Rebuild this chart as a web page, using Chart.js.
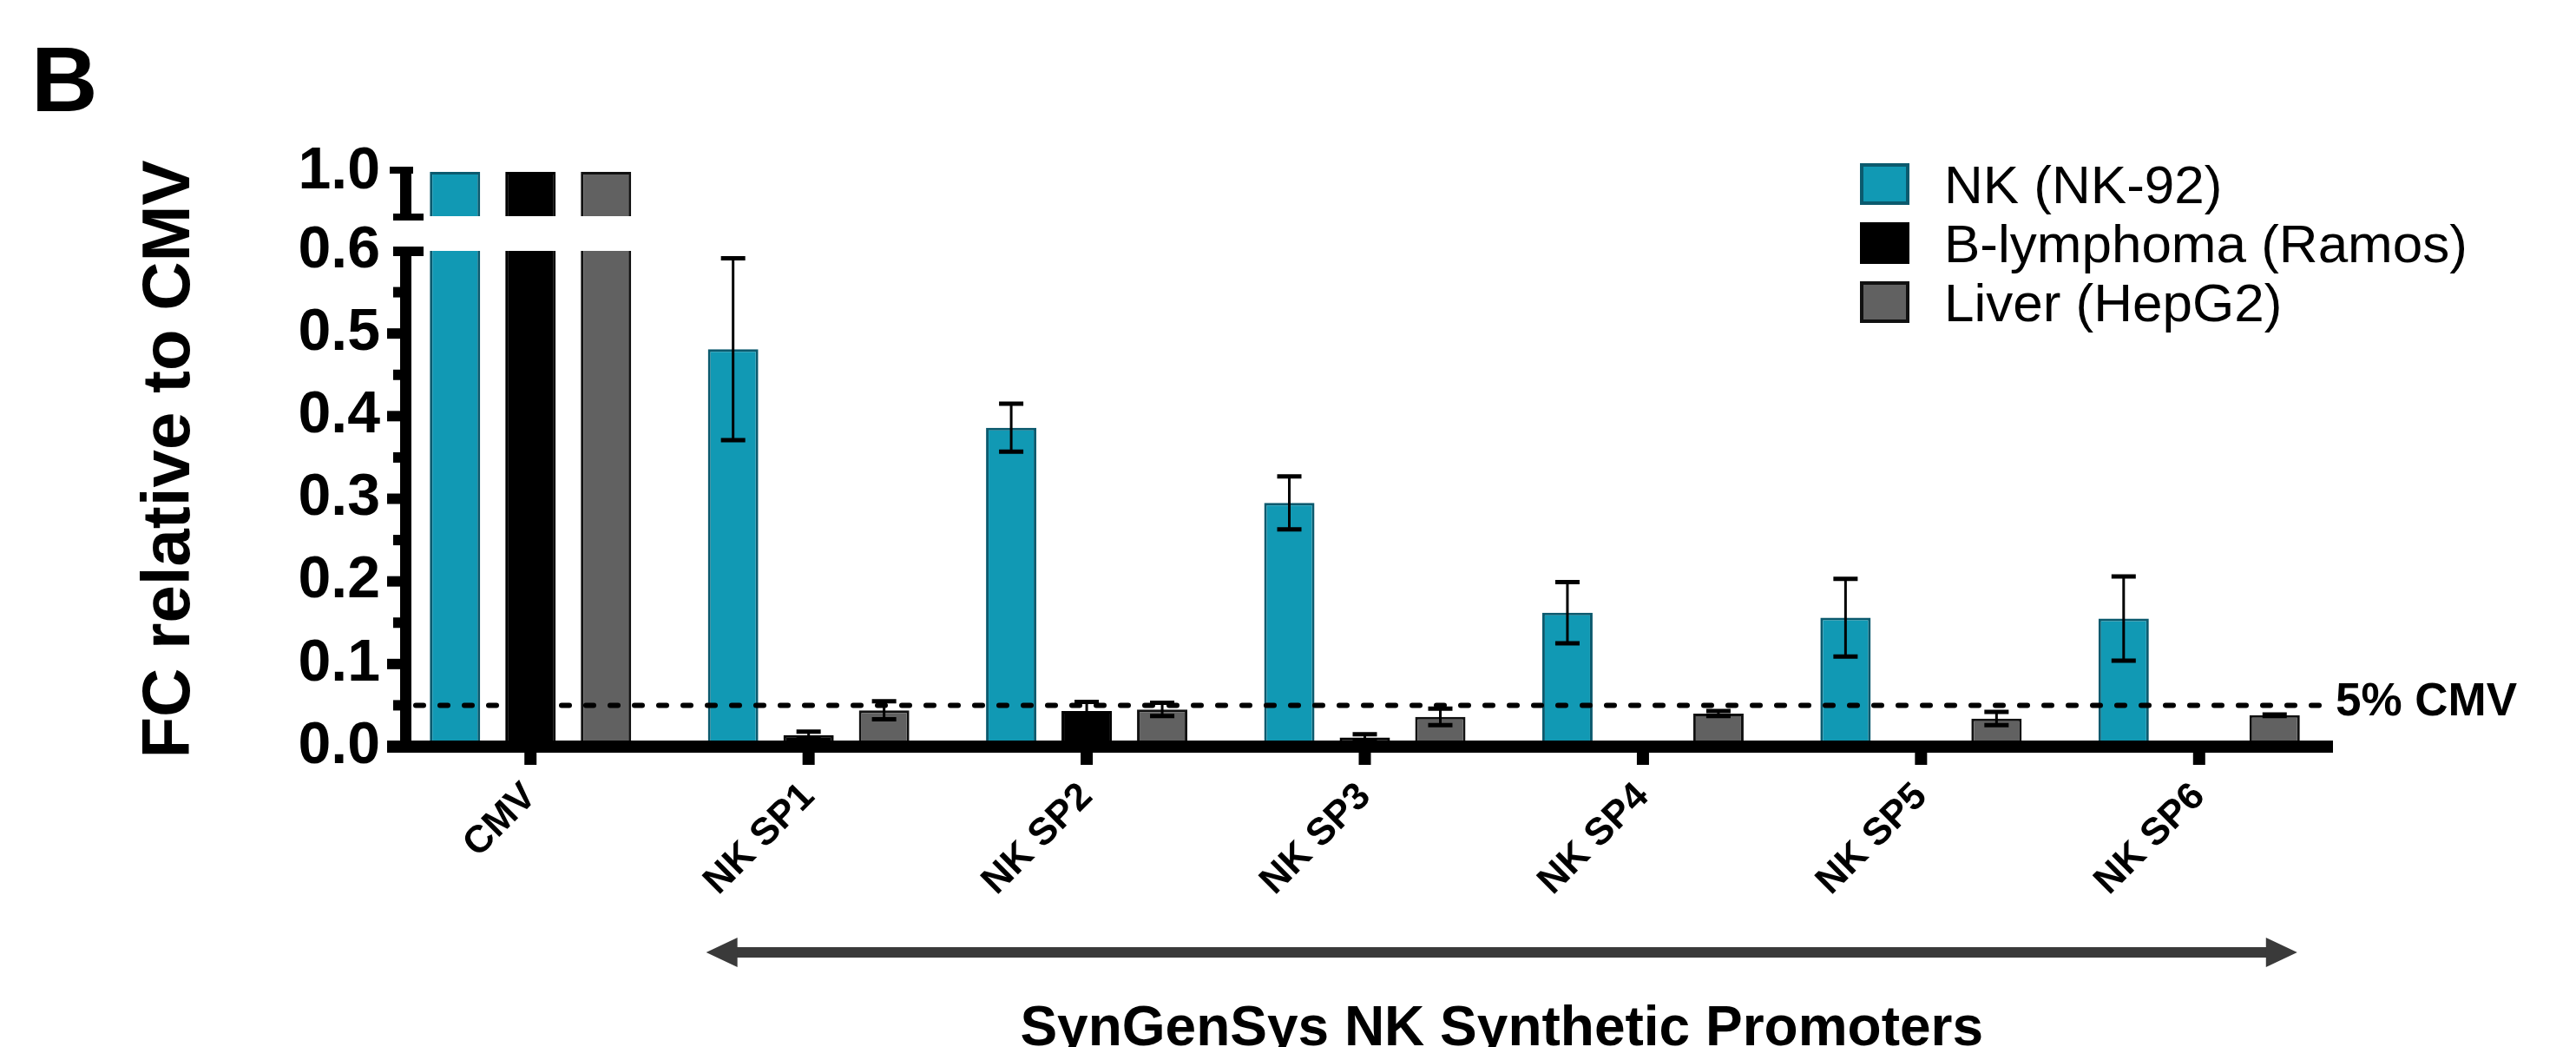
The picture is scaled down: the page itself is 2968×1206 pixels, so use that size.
<!DOCTYPE html>
<html>
<head>
<meta charset="utf-8">
<script src="https://cdn.jsdelivr.net/npm/chart.js@4.4.1/dist/chart.umd.min.js"></script>
<style>
  html, body { margin: 0; padding: 0; background: #fff; }
</style>
</head>
<body>
<canvas id="myChart" width="2968" height="1206"></canvas>
<script>
// data
const categories = ["CMV", "NK SP1", "NK SP2", "NK SP3", "NK SP4", "NK SP5", "NK SP6"];
const seriesNames = ["NK (NK-92)", "B-lymphoma (Ramos)", "Liver (HepG2)"];
const nkValues = [1.0, 0.481, 0.386, 0.295, 0.162, 0.156, 0.155];
const nkErrors = [0, 0.110, 0.029, 0.032, 0.037, 0.047, 0.051];
const ramosValues = [1.0, 0.014, 0.043, 0.011, 0, 0, 0];
const ramosErrors = [0, 0.004, 0.011, 0.004, 0, 0, 0];
const hepg2Values = [1.0, 0.044, 0.045, 0.036, 0.040, 0.034, 0.038];
const hepg2Errors = [0, 0.011, 0.008, 0.010, 0.003, 0.008, 0.001];
const yTickValues = [0, 0.05, 0.1, 0.15, 0.2, 0.25, 0.3, 0.35, 0.4, 0.45, 0.5, 0.55, 0.6, 1.0];
const thresholdValue = 0.05;
const thresholdLabel = "5% CMV";
const panelLabel = "B";
const groupLabel = "SynGenSys NK Synthetic Promoters";

const FONT = "'Liberation Sans', Arial, sans-serif";
const colors = {
  nk: "#1199b4", nkBorder: "#0b5a6e",
  ramos: "#000000", ramosBorder: "#000000",
  hepg2: "#616161", hepg2Border: "#111111",
};

// linear scale with a break between lowMax and highMin
class BrokenScale extends Chart.LinearScale {
  _segs() {
    const b = this.options.brk;
    const h = this.bottom - this.top;
    return { b, lowTop: this.bottom - h * b.lowFrac, highBottom: this.top + h * b.highFrac };
  }
  getPixelForValue(value) {
    const { b, lowTop, highBottom } = this._segs();
    if (value <= b.lowMax) {
      return this.bottom - (value - this.min) / (b.lowMax - this.min) * (this.bottom - lowTop);
    }
    if (value >= b.highMin) {
      return highBottom - (value - b.highMin) / (this.max - b.highMin) * (highBottom - this.top);
    }
    return lowTop - (value - b.lowMax) / (b.highMin - b.lowMax) * (lowTop - highBottom);
  }
  getValueForPixel(pixel) {
    const { b, lowTop, highBottom } = this._segs();
    if (pixel >= lowTop) return this.min + (this.bottom - pixel) / (this.bottom - lowTop) * (b.lowMax - this.min);
    if (pixel <= highBottom) return b.highMin + (highBottom - pixel) / (highBottom - this.top) * (this.max - b.highMin);
    return b.lowMax + (lowTop - pixel) / (lowTop - highBottom) * (b.highMin - b.lowMax);
  }
}
BrokenScale.id = "broken";
BrokenScale.defaults = Chart.LinearScale.defaults;
Chart.register(BrokenScale);

const errorArrays = [nkErrors, ramosErrors, hepg2Errors];

const decorPlugin = {
  id: "decor",
  afterDatasetsDraw(chart) {
    const { ctx, chartArea } = chart;
    const y = chart.scales.y;
    const x = chart.scales.x;
    const brk = y.options.brk;
    const lowTop = y.getPixelForValue(brk.lowMax);
    const highBottom = y.getPixelForValue(brk.highMin);
    ctx.save();

    // axis break gap
    ctx.fillStyle = "#fff";
    ctx.fillRect(chartArea.left, highBottom + 1, chartArea.right - chartArea.left, lowTop - highBottom - 1);

    // error bars
    ctx.strokeStyle = "#000";
    chart.data.datasets.forEach((ds, i) => {
      const meta = chart.getDatasetMeta(i);
      meta.data.forEach((bar, j) => {
        const e = errorArrays[i][j];
        if (!e) return;
        const v = ds.data[j];
        const yt = y.getPixelForValue(v + e);
        const yb = y.getPixelForValue(Math.max(v - e, 0));
        ctx.lineWidth = 3;
        ctx.beginPath();
        ctx.moveTo(bar.x, yt);
        ctx.lineTo(bar.x, yb);
        ctx.stroke();
        ctx.lineWidth = 5;
        ctx.beginPath();
        ctx.moveTo(bar.x - 14, yt); ctx.lineTo(bar.x + 14, yt);
        ctx.moveTo(bar.x - 14, yb); ctx.lineTo(bar.x + 14, yb);
        ctx.stroke();
      });
    });

    // threshold line
    const ty = y.getPixelForValue(thresholdValue);
    ctx.lineWidth = 6;
    ctx.lineCap = "round";
    ctx.setLineDash([9, 19]);
    ctx.beginPath();
    ctx.moveTo(chartArea.left + 28, ty);
    ctx.lineTo(chartArea.right - 21, ty);
    ctx.stroke();
    ctx.setLineDash([]);
    ctx.lineCap = "butt";
    ctx.fillStyle = "#000";
    ctx.font = "bold 53px " + FONT;
    ctx.textBaseline = "middle";
    ctx.textAlign = "left";
    ctx.fillText(thresholdLabel, chartArea.right - 3, ty - 3);

    // axes
    const ax = chartArea.left + 10;  // left edge of y axis line
    ctx.fillStyle = "#000";
    ctx.fillRect(chartArea.left - 5, y.bottom - 7, chartArea.right - 6 - (chartArea.left - 5), 14);
    categories.forEach((c, i) => {
      const px = x.getPixelForTick(i);
      ctx.fillRect(px - 7, y.bottom + 7, 14, 14);
    });
    ctx.fillRect(ax, lowTop - 5, 13, y.bottom + 7 - (lowTop - 5));
    ctx.fillRect(ax - 8, lowTop - 5, 35, 11);
    yTickValues.forEach(v => {
      if (v > brk.lowMax) return;
      const py = y.getPixelForValue(v);
      const major = Math.abs(v * 10 - Math.round(v * 10)) < 1e-6;
      if (v === brk.lowMax || v === 0) return;
      if (major) ctx.fillRect(ax - 15, py - 6, 15, 12);
      else ctx.fillRect(ax - 8, py - 6, 8, 12);
    });
    // upper segment
    ctx.fillRect(ax, y.top - 6, 13, highBottom + 5 - (y.top - 6));
    ctx.fillRect(ax - 12, y.top - 6, 27, 8);
    ctx.fillRect(ax - 8, highBottom - 2, 35, 8);

    // legend
    const lx = 2143, rowY = [212, 280, 348], bw = 57, bh = 48;
    const fills = [colors.nk, colors.ramos, colors.hepg2];
    const borders = [colors.nkBorder, colors.ramosBorder, colors.hepg2Border];
    ctx.font = "62px " + FONT;
    ctx.textBaseline = "alphabetic";
    seriesNames.forEach((name, i) => {
      ctx.fillStyle = fills[i];
      ctx.fillRect(lx, rowY[i] - bh / 2, bw, bh);
      ctx.strokeStyle = borders[i];
      ctx.lineWidth = 4;
      ctx.strokeRect(lx + 2, rowY[i] - bh / 2 + 2, bw - 4, bh - 4);
      ctx.fillStyle = "#000";
      ctx.fillText(name, 2240, rowY[i] + 22);
    });

    // panel letter
    ctx.font = "bold 106px " + FONT;
    ctx.fillText(panelLabel, 36, 128);

    // double arrow under the synthetic promoters
    const a0 = x.getPixelForTick(1) - 118, a1 = x.getPixelForTick(6) + 113, ay = 1097;
    ctx.fillStyle = "#3a3a3a";
    ctx.fillRect(a0 + 30, ay - 6, a1 - a0 - 60, 12);
    ctx.beginPath();
    ctx.moveTo(a0, ay); ctx.lineTo(a0 + 36, ay - 17); ctx.lineTo(a0 + 36, ay + 17); ctx.closePath();
    ctx.moveTo(a1, ay); ctx.lineTo(a1 - 36, ay - 17); ctx.lineTo(a1 - 36, ay + 17); ctx.closePath();
    ctx.fill();

    ctx.fillStyle = "#000";
    ctx.font = "bold 64px " + FONT;
    ctx.textAlign = "center";
    ctx.fillText(groupLabel, (a0 + a1) / 2, 1204);
    ctx.restore();
  }
};

const ctx = document.getElementById("myChart").getContext("2d");
const myChart = new Chart(ctx, {
  type: "bar",
  data: {
    labels: categories,
    datasets: [
      { label: seriesNames[0], data: nkValues, backgroundColor: colors.nk, borderColor: colors.nkBorder, borderWidth: 3 },
      { label: seriesNames[1], data: ramosValues, backgroundColor: colors.ramos, borderColor: colors.ramosBorder, borderWidth: 3 },
      { label: seriesNames[2], data: hepg2Values, backgroundColor: colors.hepg2, borderColor: colors.hepg2Border, borderWidth: 3 },
    ],
  },
  options: {
    responsive: false,
    animation: false,
    devicePixelRatio: 1,
    datasets: {
      bar: { categoryPercentage: 0.8144, barPercentage: 0.667 },
    },
    layout: { padding: { top: 198, right: 274, left: 0, bottom: 0 } },
    plugins: {
      legend: { display: false },
      tooltip: { enabled: false },
    },
    scales: {
      x: {
        grid: { display: false, drawTicks: false },
        border: { display: false },
        ticks: {
          color: "#000",
          font: { family: FONT, size: 44, weight: "bold" },
          minRotation: 45,
          maxRotation: 45,
          autoSkip: false,
          padding: 32,
        },
        afterFit: (s) => { s.height = 346; },
      },
      y: {
        type: "broken",
        min: 0,
        max: 1.0,
        brk: { lowMax: 0.6, highMin: 0.95, lowFrac: 571 / 662, highFrac: 50 / 662 },
        grid: { display: false, drawTicks: false },
        border: { display: false },
        afterBuildTicks: (s) => { s.ticks = yTickValues.map(v => ({ value: v })); },
        ticks: {
          color: "#000",
          autoSkip: false,
          padding: 13,
          font: { family: FONT, size: 68, weight: "bold" },
          callback: (v) => (Math.abs(v * 10 - Math.round(v * 10)) < 1e-6 ? v.toFixed(1) : ""),
        },
        title: {
          display: true,
          text: "FC relative to CMV",
          color: "#000",
          font: { family: FONT, size: 78, weight: "bold" },
          padding: { top: 150, bottom: 0 },
        },
        afterFit: (s) => { s.width = 451; },
      },
    },
  },
  plugins: [decorPlugin],
});
</script>
</body>
</html>
